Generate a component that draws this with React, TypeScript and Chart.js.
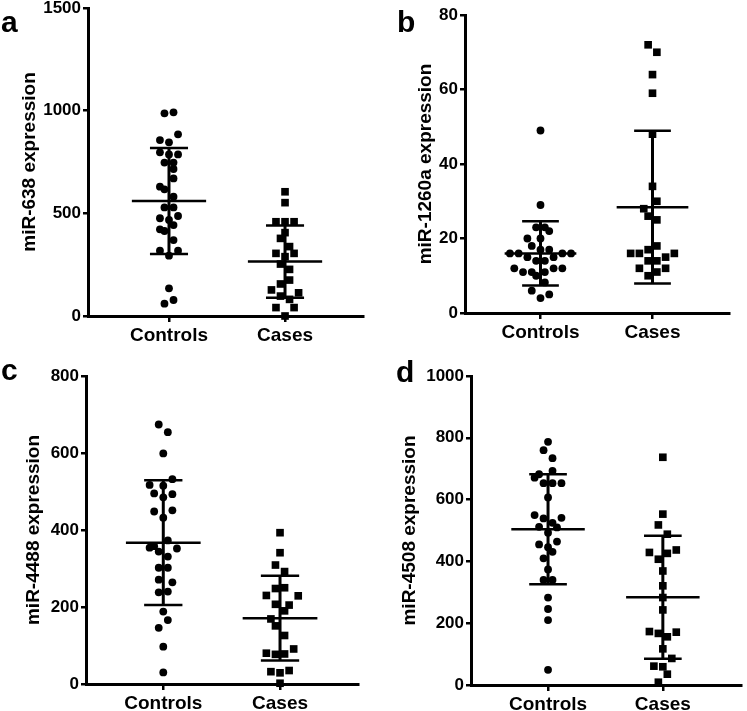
import React, { useEffect, useRef } from "react";
import { Chart, registerables } from "chart.js";

Chart.register(...registerables);

const categories = ["Controls", "Cases"];

// Panel a: miR-638
const aTitle = "miR-638 expression";
const aControls = [987, 992, 885, 857, 846, 797, 787, 787, 747, 747, 716, 670, 630, 617, 581, 529, 529, 476, 468, 487, 422, 414, 443, 370, 318, 318, 294, 135, 60, 78];
const aControlLanes = [-1, 1, 2, -2, 0, -2, 0, 2, -1, 1, 1, 1, -2, -1, 1, -1, 1, -2, 0, 2, -2, -1, 1, 1, -2, 2, 0, 0, -1, 1];
const aCases = [605, 552, 459, 459, 459, 406, 378, 338, 305, 305, 289, 253, 227, 175, 156, 127, 113, 97, 81, 41, 41, 0];
const aCaseLanes = [0, 0, -2, 0, 2, 0, -1, 1, -2, 2, 0, -1, 1, 1, -1, -3, 3, -1, 1, -2, 2, 0];
const aMeans = [560, 265];
const aSDs = [258, 176];
const aYTicks = [0, 500, 1000, 1500];

// Panel b: miR-1260a
const bTitle = "miR-1260a expression";
const bControls = [49, 29, 23, 23, 22, 20, 20, 18, 17, 17, 16, 16, 16, 16, 15, 15, 14, 14, 12, 12, 12, 11, 11, 11, 10, 8.2, 6, 5, 4];
const bControlLanes = [0, 0, -1, 1, 2, -3, 0, -2, 0, 2, -7, -5, 5, 7, -3, 3, -1, 1, -6, 3, 5, -4, -2, 1, -1, 1, -2, 2, 0];
const bCases = [72, 70, 64, 59, 48, 34, 30, 28, 26, 25, 18, 17, 16, 16, 15, 16, 14, 14, 12, 12, 11, 10];
const bCaseLanes = [-1, 1, 0, 0, 0, 0, 1, -2, -1, 1, 1, -1, -5, -3, 3, 5, -1, 1, -3, 3, 1, -1];
const bMeans = [16, 28.4];
const bSDs = [8.6, 20.5];
const bYTicks = [0, 20, 40, 60, 80];

// Panel c: miR-4488
const cTitle = "miR-4488 expression";
const cControls = [674, 654, 599, 532, 517, 515, 495, 485, 493, 448, 451, 432, 373, 354, 358, 352, 344, 331, 302, 302, 271, 264, 238, 240, 188, 166, 146, 97, 30];
const cControlLanes = [-1, 1, 0, 2, -3, 0, -2, 0, 2, -2, 2, 0, 1, -3, -2, 3, -1, 1, -1, 1, -1, 2, -1, 1, 0, 1, -1, 0, 0];
const cCases = [393, 341, 309, 292, 248, 250, 230, 229, 207, 205, 190, 169, 151, 126, 80, 77, 78, 91, 32, 29, 35, 2];
const cCaseLanes = [0, 0, -1, 1, -1, 1, -3, 4, -1, 2, 1, -2, -1, 1, -3, -1, 1, 3, -2, 0, 2, 0];
const cMeans = [367, 171];
const cSDs = [162, 110];
const cYTicks = [0, 200, 400, 600, 800];

// Panel d: miR-4508
const dTitle = "miR-4508 expression";
const dControls = [787, 760, 734, 682, 671, 693, 653, 653, 653, 607, 550, 539, 525, 541, 512, 510, 493, 455, 446, 431, 464, 410, 374, 340, 340, 283, 246, 210, 49];
const dControlLanes = [0, -1, 1, -2, -3, 1, -1, 1, 3, 0, -3, -1, 1, 3, -2, 2, 0, -2, 0, 1, 2, -1, 0, -1, 1, 0, 0, 0, 0];
const dCases = [737, 553, 518, 488, 429, 426, 437, 407, 369, 321, 283, 243, 173, 167, 156, 171, 117, 86, 61, 59, 35, 9];
const dCaseLanes = [0, 0, -1, 1, -3, 1, 3, -1, 0, 0, 0, 0, -3, -1, 1, 3, 0, 2, -2, 0, 1, -1];
const dMeans = [504, 284];
const dSDs = [178, 199];
const dYTicks = [0, 200, 400, 600, 800, 1000];

const FONT = '"Liberation Sans", Arial, sans-serif';
const LANE = 0.039;
const MEAN_HALF = 0.32;
const CAP_HALF = 0.164;

type Panel = {
  letter: string;
  title: string;
  controls: number[];
  controlLanes: number[];
  cases: number[];
  caseLanes: number[];
  means: number[];
  sds: number[];
  yTicks: number[];
  box: { left: number; top: number; width: number; height: number };
  area: { left: number; top: number; right: number; bottom: number };
  xMin: number;
  xMax: number;
  letterPos: { x: number; y: number };
  titleX: number;
};

const panels: Panel[] = [
  {
    letter: "a", title: aTitle, controls: aControls, controlLanes: aControlLanes, cases: aCases, caseLanes: aCaseLanes,
    means: aMeans, sds: aSDs, yTicks: aYTicks,
    box: { left: 0, top: 0, width: 374, height: 355 },
    area: { left: 88, top: 8, right: 363, bottom: 316 },
    xMin: 0.302, xMax: 2.672, letterPos: { x: 1, y: 32 }, titleX: 30,
  },
  {
    letter: "b", title: bTitle, controls: bControls, controlLanes: bControlLanes, cases: bCases, caseLanes: bCaseLanes,
    means: bMeans, sds: bSDs, yTicks: bYTicks,
    box: { left: 374, top: 0, width: 373, height: 355 },
    area: { left: 91, top: 15, right: 355, bottom: 313 },
    xMin: 0.326, xMax: 2.683, letterPos: { x: 23, y: 32 }, titleX: 52,
  },
  {
    letter: "c", title: cTitle, controls: cControls, controlLanes: cControlLanes, cases: cCases, caseLanes: cCaseLanes,
    means: cMeans, sds: cSDs, yTicks: cYTicks,
    box: { left: 0, top: 355, width: 374, height: 372 },
    area: { left: 86, top: 21, right: 358, bottom: 329 },
    xMin: 0.338, xMax: 2.668, letterPos: { x: 1, y: 25 }, titleX: 34,
  },
  {
    letter: "d", title: dTitle, controls: dControls, controlLanes: dControlLanes, cases: dCases, caseLanes: dCaseLanes,
    means: dMeans, sds: dSDs, yTicks: dYTicks,
    box: { left: 374, top: 355, width: 373, height: 372 },
    area: { left: 97, top: 21, right: 372, bottom: 330 },
    xMin: 0.329, xMax: 2.686, letterPos: { x: 22, y: 27 }, titleX: 36,
  },
];

const X_AXIS_H = 34;
const TITLE_SIZE = 19;
const TICK_SIZE = 17;

function PanelChart({ p }: { p: Panel }) {
  const ref = useRef<HTMLCanvasElement | null>(null);
  useEffect(() => {
    if (!ref.current) return;
    const seg = (x1: number, y1: number, x2: number, y2: number, w: number) => ({
      data: [{ x: x1, y: y1 }, { x: x2, y: y2 }],
      showLine: true,
      borderColor: "#000",
      borderWidth: w,
      pointRadius: 0,
      borderCapStyle: "butt",
      clip: false,
    });
    const datasets: any[] = [];
    p.means.forEach((m, i) => {
      const c = i + 1;
      const sd = p.sds[i];
      datasets.push(seg(c - MEAN_HALF, m, c + MEAN_HALF, m, 2.5));
      datasets.push(seg(c - CAP_HALF, m + sd, c + CAP_HALF, m + sd, 2.5));
      datasets.push(seg(c - CAP_HALF, m - sd, c + CAP_HALF, m - sd, 2.5));
      datasets.push(seg(c, m - sd, c, m + sd, 3));
    });
    datasets.push({
      data: p.controls.map((v, i) => ({ x: 1 + p.controlLanes[i] * LANE, y: v })),
      pointStyle: "circle",
      pointRadius: 3.9,
      backgroundColor: "#000",
      borderWidth: 0,
      clip: false,
    });
    datasets.push({
      data: p.cases.map((v, i) => ({ x: 2 + p.caseLanes[i] * LANE, y: v })),
      pointStyle: "rect",
      pointRadius: 5.4,
      backgroundColor: "#000",
      borderWidth: 0,
      clip: false,
    });

    const letterPlugin = {
      id: "panelLetter",
      afterDraw(chart: any) {
        const ctx = chart.ctx;
        ctx.save();
        ctx.fillStyle = "#000";
        ctx.font = `bold 30px ${FONT}`;
        ctx.textBaseline = "alphabetic";
        ctx.textAlign = "left";
        ctx.fillText(p.letter, p.letterPos.x, p.letterPos.y);
        ctx.restore();
      },
    };

    const titleLH = TITLE_SIZE * 1.2;
    const chart = new Chart(ref.current, {
      type: "scatter",
      data: { datasets },
      options: {
        responsive: false,
        animation: false,
        devicePixelRatio: 1,
        layout: {
          padding: {
            left: 0,
            top: p.area.top,
            right: p.box.width - p.area.right,
            bottom: p.box.height - p.area.bottom - X_AXIS_H,
          },
        },
        plugins: { legend: { display: false }, tooltip: { enabled: false } },
        scales: {
          x: {
            type: "linear",
            min: p.xMin,
            max: p.xMax,
            afterBuildTicks: (s: any) => {
              s.ticks = categories.map((_, i) => ({ value: i + 1 }));
            },
            afterFit: (s: any) => {
              s.height = X_AXIS_H;
              s.paddingLeft = 0;
              s.paddingRight = 0;
            },
            ticks: {
              callback: (_v: any, i: number) => categories[i],
              font: { family: FONT, size: TITLE_SIZE, weight: "bold" },
              color: "#000",
              padding: 2,
              autoSkip: false,
              maxRotation: 0,
            },
            grid: { display: true, drawOnChartArea: false, drawTicks: true, tickLength: 6, color: "#000", lineWidth: 2.5 },
            border: { display: true, color: "#000", width: 3 },
          },
          y: {
            type: "linear",
            min: p.yTicks[0],
            max: p.yTicks[p.yTicks.length - 1],
            afterBuildTicks: (s: any) => {
              s.ticks = p.yTicks.map((v) => ({ value: v }));
            },
            afterFit: (s: any) => {
              s.width = p.area.left;
              s.paddingTop = 0;
              s.paddingBottom = 0;
            },
            ticks: {
              callback: (v: any) => String(v),
              font: { family: FONT, size: TICK_SIZE, weight: "bold" },
              color: "#000",
              padding: 2,
            },
            grid: { display: true, drawOnChartArea: false, drawTicks: true, tickLength: 5, color: "#000", lineWidth: 2.5 },
            border: { display: true, color: "#000", width: 3 },
            title: {
              display: true,
              text: p.title,
              color: "#000",
              font: { family: FONT, size: TITLE_SIZE, weight: "bold", lineHeight: 1.2 },
              padding: { top: p.titleX - titleLH / 2, bottom: 0 },
            },
          },
        },
      } as any,
      plugins: [letterPlugin],
    });
    return () => chart.destroy();
  }, [p]);
  return (
    <canvas
      ref={ref}
      width={p.box.width}
      height={p.box.height}
      style={{ position: "absolute", left: p.box.left, top: p.box.top, width: p.box.width, height: p.box.height }}
    />
  );
}

export default function App() {
  return (
    <div style={{ position: "absolute", left: 0, top: 0, width: 747, height: 711, overflow: "hidden", background: "#fff" }}>
      {panels.map((p) => (
        <PanelChart key={p.letter} p={p} />
      ))}
    </div>
  );
}
